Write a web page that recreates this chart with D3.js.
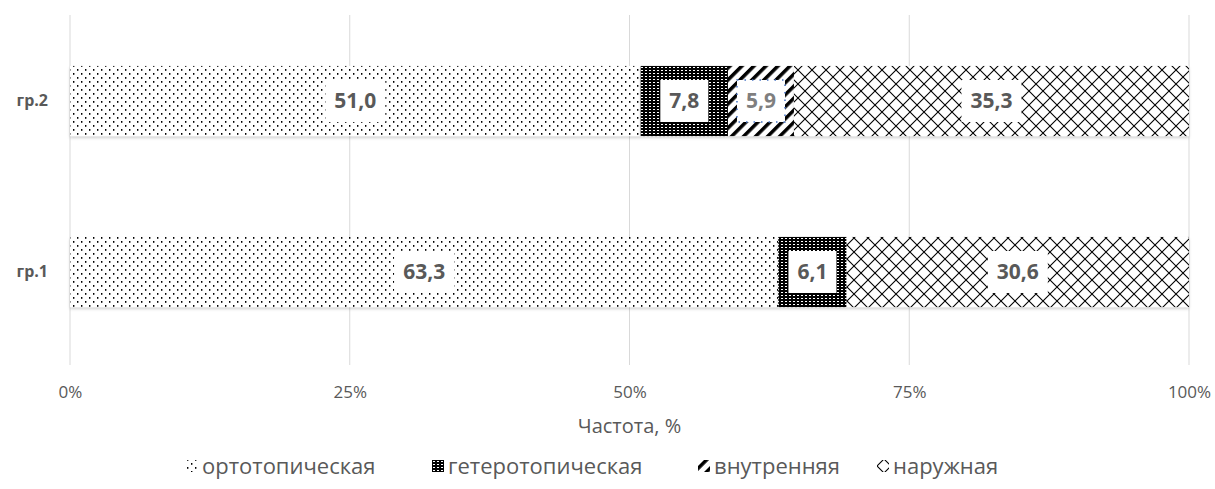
<!DOCTYPE html>
<html>
<head>
<meta charset="utf-8">
<script src="https://cdn.jsdelivr.net/npm/d3@7"></script>
<style>
  body { margin: 0; background: #fff; }
  svg { font-family: "Open Sans", sans-serif; }
</style>
</head>
<body>
<div id="chart"></div>
<script>
var groups = ["гр.1", "гр.2"];
var seriesNames = ["ортотопическая", "гетеротопическая", "внутренняя", "наружная"];
var orto = [63.3, 51.0];
var hetero = [6.1, 7.8];
var inner = [0, 5.9];
var outer = [30.6, 35.3];
var ticks = [0, 0.25, 0.5, 0.75, 1];

var w = 1215, h = 489;
var font = "'Open Sans', sans-serif";
var svg = d3.select("#chart").append("svg")
  .attr("width", w)
  .attr("height", h);

var defs = svg.append("defs");

// dots
var p0 = defs.append("pattern").attr("id", "p0")
  .attr("width", 8).attr("height", 8).attr("patternUnits", "userSpaceOnUse");
p0.append("rect").attr("width", 8).attr("height", 8).attr("fill", "#fff");
[[1, 1], [5, 5]].forEach(function(d) {
  p0.append("rect").attr("x", d[0]).attr("y", d[1]).attr("width", 1.4).attr("height", 1.8).attr("fill", "#000");
});

// dense grid
var p1 = defs.append("pattern").attr("id", "p1")
  .attr("width", 4).attr("height", 3).attr("patternUnits", "userSpaceOnUse");
p1.append("rect").attr("width", 4).attr("height", 3).attr("fill", "#000");
p1.append("rect").attr("x", 1).attr("y", 1).attr("width", 2).attr("height", 1).attr("fill", "#fff");

// wide diagonal
var p2 = defs.append("pattern").attr("id", "p2")
  .attr("width", 8.5).attr("height", 8.5).attr("patternUnits", "userSpaceOnUse")
  .attr("patternTransform", "rotate(45)");
p2.append("rect").attr("width", 8.5).attr("height", 8.5).attr("fill", "#fff");
p2.append("rect").attr("x", 0).attr("width", 3.5).attr("height", 8.5).attr("fill", "#000");

// diamond lattice
var p3 = defs.append("pattern").attr("id", "p3")
  .attr("width", 14).attr("height", 14).attr("patternUnits", "userSpaceOnUse");
p3.append("rect").attr("width", 14).attr("height", 14).attr("fill", "#fff");
p3.append("path").attr("d", "M0,0L14,14M14,0L0,14")
  .attr("stroke", "#000").attr("stroke-width", 1.1).attr("fill", "none");

var shadow = defs.append("filter").attr("id", "sh")
  .attr("x", "-2%").attr("y", "-10%").attr("width", "104%").attr("height", "130%");
shadow.append("feDropShadow").attr("dx", 0).attr("dy", 2).attr("stdDeviation", 1.5)
  .attr("flood-color", "#000").attr("flood-opacity", 0.18);

var patterns = ["url(#p0)", "url(#p1)", "url(#p2)", "url(#p3)"];

var x = d3.scaleLinear().domain([0, 1]).range([70, 1189]);
var y = d3.scaleBand().domain(["гр.2", "гр.1"]).range([15.5, 357.5])
  .paddingInner(0.59).paddingOuter(0.295);

// grid
svg.append("g").selectAll("line").data(ticks).enter().append("line")
  .attr("x1", function(d) { return x(d); })
  .attr("x2", function(d) { return x(d); })
  .attr("y1", 15).attr("y2", 365)
  .attr("stroke", "#d9d9d9").attr("stroke-width", 1);

var xAxis = svg.append("g")
  .attr("transform", "translate(0,383)")
  .call(d3.axisBottom(x).tickValues(ticks).tickFormat(d3.format(".0%")).tickSize(0));
xAxis.select(".domain").remove();
xAxis.selectAll("text").attr("fill", "#595959").style("font-size", "17px")
  .style("font-family", font);

var yAxis = svg.append("g")
  .attr("transform", "translate(51,0)")
  .call(d3.axisLeft(y).tickSize(0));
yAxis.select(".domain").remove();
yAxis.selectAll("text").attr("fill", "#595959").style("font-size", "16px")
  .style("font-weight", "bold").style("font-family", font);

svg.append("text").attr("x", (x(0) + x(1)) / 2).attr("y", 426)
  .attr("dy", "0.35em")
  .attr("text-anchor", "middle").attr("fill", "#595959").style("font-size", "20px")
  .text("Частота, %");

var rows = groups.map(function(g, i) {
  return { group: g, values: [orto[i], hetero[i], inner[i], outer[i]] };
});
var segs = [];
rows.forEach(function(r) {
  var total = d3.sum(r.values), acc = 0;
  r.values.forEach(function(v, k) {
    segs.push({ group: r.group, k: k, v: v, x0: acc / total, x1: (acc + v) / total });
    acc += v;
  });
});
segs = segs.filter(function(d) { return d.v > 0; });

svg.append("g").selectAll("rect").data(segs).enter().append("rect")
  .attr("x", function(d) { return x(d.x0); })
  .attr("width", function(d) { return x(d.x1) - x(d.x0); })
  .attr("y", function(d) { return y(d.group); })
  .attr("height", y.bandwidth())
  .attr("fill", function(d) { return patterns[d.k]; })
  .attr("filter", "url(#sh)");

var fmt = function(v) { return d3.format(".1f")(v).replace(".", ","); };
var lab = svg.append("g").selectAll("g").data(segs).enter().append("g")
  .attr("transform", function(d) {
    return "translate(" + (x(d.x0) + x(d.x1)) / 2 + "," + (y(d.group) + y.bandwidth() / 2) + ")";
  });
var boxes = lab.append("rect");
var labText = lab.append("text")
  .attr("text-anchor", "middle").attr("dy", "0.35em")
  .attr("fill", function(d) { return d.k === 2 ? "#7f7f7f" : "#595959"; })
  .style("font-size", "21px").style("font-weight", "bold")
  .text(function(d) { return fmt(d.v); });
labText.each(function(d) { d.tw = this.getComputedTextLength(); });
boxes
  .attr("x", function(d) { return -d.tw / 2 - 9; })
  .attr("width", function(d) { return d.tw + 18; })
  .attr("y", -21).attr("height", 42)
  .attr("fill", "#fff")
  .attr("stroke", function(d) { return d.k === 2 ? "#4472c4" : "none"; })
  .attr("stroke-dasharray", "1.5,6")
  .attr("stroke-width", 1.5);

// legend
var legX = [186, 432, 698, 877];
var items = svg.append("g").selectAll("g").data(seriesNames).enter().append("g")
  .attr("transform", function(d, i) { return "translate(" + legX[i] + ",466)"; });
items.append("rect").attr("y", -6).attr("width", 12).attr("height", 12)
  .attr("fill", function(d, i) { return patterns[i]; });
items.append("text").attr("x", 16).attr("dy", "0.35em")
  .attr("fill", "#595959").style("font-size", "22px")
  .text(function(d) { return d; });
</script>
</body>
</html>
